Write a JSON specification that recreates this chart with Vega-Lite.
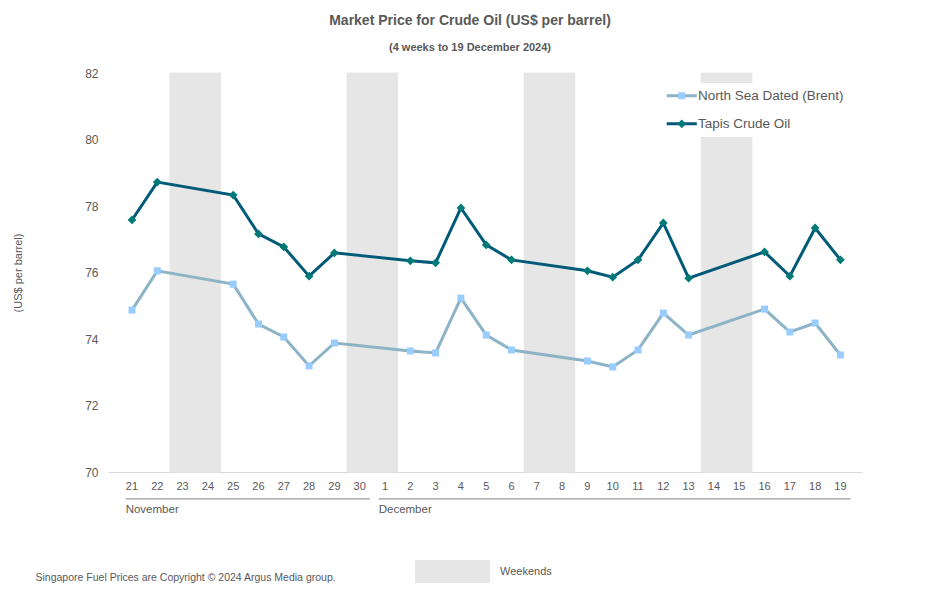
{
  "$schema": "https://vega.github.io/schema/vega-lite/v6.json",
  "autosize": {"type": "none"},
  "width": 754,
  "height": 399,
  "padding": {"left": 108, "top": 73, "right": 78, "bottom": 130},
  "background": "white",
  "config": {
    "font": "Liberation Sans",
    "view": {"stroke": null},
    "title": {"color": "#595959", "subtitleColor": "#595959"}
  },
  "title": {
    "text": "Market Price for Crude Oil (US$ per barrel)",
    "subtitle": "(4 weeks to 19 December 2024)",
    "fontSize": 14,
    "fontWeight": "bold",
    "subtitleFontSize": 11,
    "subtitleFontWeight": "bold",
    "subtitlePadding": 14,
    "anchor": "middle",
    "dx": -15,
    "offset": 14
  },
  "datasets": {
    "prices": [
      {"day": "21", "series": "North Sea Dated (Brent)", "price": 74.87},
      {"day": "22", "series": "North Sea Dated (Brent)", "price": 76.05},
      {"day": "25", "series": "North Sea Dated (Brent)", "price": 75.65},
      {"day": "26", "series": "North Sea Dated (Brent)", "price": 74.45},
      {"day": "27", "series": "North Sea Dated (Brent)", "price": 74.06},
      {"day": "28", "series": "North Sea Dated (Brent)", "price": 73.19},
      {"day": "29", "series": "North Sea Dated (Brent)", "price": 73.88},
      {"day": "2", "series": "North Sea Dated (Brent)", "price": 73.64},
      {"day": "3", "series": "North Sea Dated (Brent)", "price": 73.58},
      {"day": "4", "series": "North Sea Dated (Brent)", "price": 75.23},
      {"day": "5", "series": "North Sea Dated (Brent)", "price": 74.12},
      {"day": "6", "series": "North Sea Dated (Brent)", "price": 73.67},
      {"day": "9", "series": "North Sea Dated (Brent)", "price": 73.34},
      {"day": "10", "series": "North Sea Dated (Brent)", "price": 73.16},
      {"day": "11", "series": "North Sea Dated (Brent)", "price": 73.67},
      {"day": "12", "series": "North Sea Dated (Brent)", "price": 74.78},
      {"day": "13", "series": "North Sea Dated (Brent)", "price": 74.12},
      {"day": "16", "series": "North Sea Dated (Brent)", "price": 74.9},
      {"day": "17", "series": "North Sea Dated (Brent)", "price": 74.21},
      {"day": "18", "series": "North Sea Dated (Brent)", "price": 74.48},
      {"day": "19", "series": "North Sea Dated (Brent)", "price": 73.52},
      {"day": "21", "series": "Tapis Crude Oil", "price": 77.58},
      {"day": "22", "series": "Tapis Crude Oil", "price": 78.72},
      {"day": "25", "series": "Tapis Crude Oil", "price": 78.33},
      {"day": "26", "series": "Tapis Crude Oil", "price": 77.16},
      {"day": "27", "series": "Tapis Crude Oil", "price": 76.77},
      {"day": "28", "series": "Tapis Crude Oil", "price": 75.89},
      {"day": "29", "series": "Tapis Crude Oil", "price": 76.59},
      {"day": "2", "series": "Tapis Crude Oil", "price": 76.35},
      {"day": "3", "series": "Tapis Crude Oil", "price": 76.29},
      {"day": "4", "series": "Tapis Crude Oil", "price": 77.94},
      {"day": "5", "series": "Tapis Crude Oil", "price": 76.83},
      {"day": "6", "series": "Tapis Crude Oil", "price": 76.38},
      {"day": "9", "series": "Tapis Crude Oil", "price": 76.05},
      {"day": "10", "series": "Tapis Crude Oil", "price": 75.86},
      {"day": "11", "series": "Tapis Crude Oil", "price": 76.38},
      {"day": "12", "series": "Tapis Crude Oil", "price": 77.49},
      {"day": "13", "series": "Tapis Crude Oil", "price": 75.83},
      {"day": "16", "series": "Tapis Crude Oil", "price": 76.62},
      {"day": "17", "series": "Tapis Crude Oil", "price": 75.89},
      {"day": "18", "series": "Tapis Crude Oil", "price": 77.34},
      {"day": "19", "series": "Tapis Crude Oil", "price": 76.38}
    ],
    "weekends": [
      {"day": "23"}, {"day": "24"}, {"day": "30"}, {"day": "1"},
      {"day": "7"}, {"day": "8"}, {"day": "14"}, {"day": "15"}
    ],
    "months": [
      {"month": "November", "start": "21", "end": "30"},
      {"month": "December", "start": "1", "end": "19"}
    ]
  },
  "encoding": {
    "x": {
      "type": "nominal",
      "scale": {
        "type": "band",
        "domain": ["21","22","23","24","25","26","27","28","29","30","1","2","3","4","5","6","7","8","9","10","11","12","13","14","15","16","17","18","19"],
        "paddingInner": 0,
        "paddingOuter": 0.4,
        "align": 0.56
      },
      "axis": {
        "title": "Singapore Fuel Prices are Copyright © 2024 Argus Media group.",
        "titleX": -73,
        "titleY": 105,
        "titleAlign": "left",
        "titleAnchor": "start",
        "titleBaseline": "middle",
        "titleFontWeight": "normal",
        "titleFontSize": 10.5,
        "titleColor": "#595959",
        "labelAngle": 0,
        "labelFontSize": 11,
        "labelColor": "#595959",
        "labelPadding": 8,
        "ticks": false,
        "domainColor": "#d9d9d9",
        "domainWidth": 1,
        "grid": false
      }
    }
  },
  "layer": [
    {
      "data": {"name": "weekends"},
      "mark": {"type": "bar", "stroke": "#e6e6e6", "strokeWidth": 1},
      "encoding": {
        "x": {"field": "day"},
        "y": {"datum": 82, "type": "quantitative"},
        "y2": {"datum": 70},
        "fill": {
          "datum": "Weekends",
          "scale": {"domain": ["Weekends"], "range": ["#e6e6e6"]},
          "legend": {
            "title": null,
            "orient": "none",
            "legendX": 307,
            "legendY": 461,
            "padding": 0,
            "symbolType": "M-1,-0.307H1V0.307H-1Z",
            "symbolSize": 5625,
            "symbolStrokeWidth": 0,
            "labelOffset": 10,
            "labelFontSize": 11,
            "labelColor": "#595959",
            "encode": {"symbols": {"update": {"fill": {"value": "#d9d9d9"}, "opacity": {"value": 1}}}}
          }
        }
      }
    },
    {
      "data": {"name": "prices"},
      "mark": {"type": "line", "strokeWidth": 3},
      "encoding": {
        "x": {"field": "day"},
        "y": {
          "field": "price",
          "type": "quantitative",
          "scale": {"domain": [70, 82], "nice": false, "zero": false},
          "axis": {
            "values": [70, 72, 74, 76, 78, 80, 82],
            "title": "(US$ per barrel)",
            "titleX": -90,
            "titleY": 199.5,
            "titleAngle": -90,
            "titleAlign": "center",
            "titleBaseline": "middle",
            "titleFontWeight": "normal",
            "titleFontSize": 11,
            "titleColor": "#595959",
            "labelFontSize": 12,
            "labelColor": "#595959",
            "labelPadding": 10,
            "ticks": false,
            "domain": false,
            "gridColor": "#ebebeb",
            "gridWidth": 1
          }
        },
        "color": {
          "field": "series",
          "type": "nominal",
          "scale": {"domain": ["North Sea Dated (Brent)", "Tapis Crude Oil"], "range": ["#8db4c6", "#005a78"]},
          "legend": {
            "title": null,
            "orient": "none",
            "legendX": 561,
            "legendY": 10,
            "padding": 6,
            "fillColor": "white",
            "symbolType": "M-4.3,0H-0.4M0.4,0H4.3",
            "symbolSize": 49,
            "symbolStrokeWidth": 3,
            "rowPadding": 13,
            "labelOffset": 9.5,
            "labelFontSize": 13.5,
            "labelColor": "#595959"
          }
        }
      }
    },
    {
      "data": {"name": "prices"},
      "transform": [{"calculate": "datum.series", "as": "marker"}],
      "mark": {"type": "point", "filled": true, "size": 49, "opacity": 1, "strokeWidth": 0},
      "encoding": {
        "x": {"field": "day"},
        "y": {"field": "price", "type": "quantitative"},
        "shape": {
          "field": "marker",
          "type": "nominal",
          "scale": {"range": ["M-1,-1H1V1H-1Z", "M0,-1.25L1.25,0L0,1.25L-1.25,0Z"]},
          "legend": {
            "title": null,
            "orient": "none",
            "legendX": 561,
            "legendY": 10,
            "padding": 6,
            "symbolSize": 49,
            "symbolStrokeWidth": 0,
            "rowPadding": 13,
            "labelOffset": 9.5,
            "labelFontSize": 13.5,
            "labelOpacity": 0
          }
        },
        "fill": {
          "field": "marker",
          "type": "nominal",
          "scale": {"range": ["#99ccff", "#007a78"]},
          "legend": {
            "title": null,
            "orient": "none",
            "legendX": 561,
            "legendY": 10,
            "padding": 6,
            "symbolSize": 49,
            "symbolStrokeWidth": 0,
            "rowPadding": 13,
            "labelOffset": 9.5,
            "labelFontSize": 13.5,
            "labelOpacity": 0
          }
        }
      }
    },
    {
      "data": {"name": "months"},
      "mark": {"type": "rule", "color": "#7f7f7f", "strokeWidth": 1},
      "encoding": {
        "x": {"field": "start", "bandPosition": 0.25},
        "x2": {"field": "end", "bandPosition": 0.9},
        "y": {"datum": 69.19, "type": "quantitative"}
      }
    },
    {
      "data": {"name": "months"},
      "mark": {"type": "text", "align": "left", "baseline": "middle", "fontSize": 11.5, "color": "#595959"},
      "encoding": {
        "x": {"field": "start", "bandPosition": 0.25},
        "y": {"datum": 68.85, "type": "quantitative"},
        "text": {"field": "month"}
      }
    }
  ],
  "resolve": {
    "scale": {"fill": "independent", "shape": "independent"},
    "legend": {"fill": "independent", "shape": "independent"}
  }
}
